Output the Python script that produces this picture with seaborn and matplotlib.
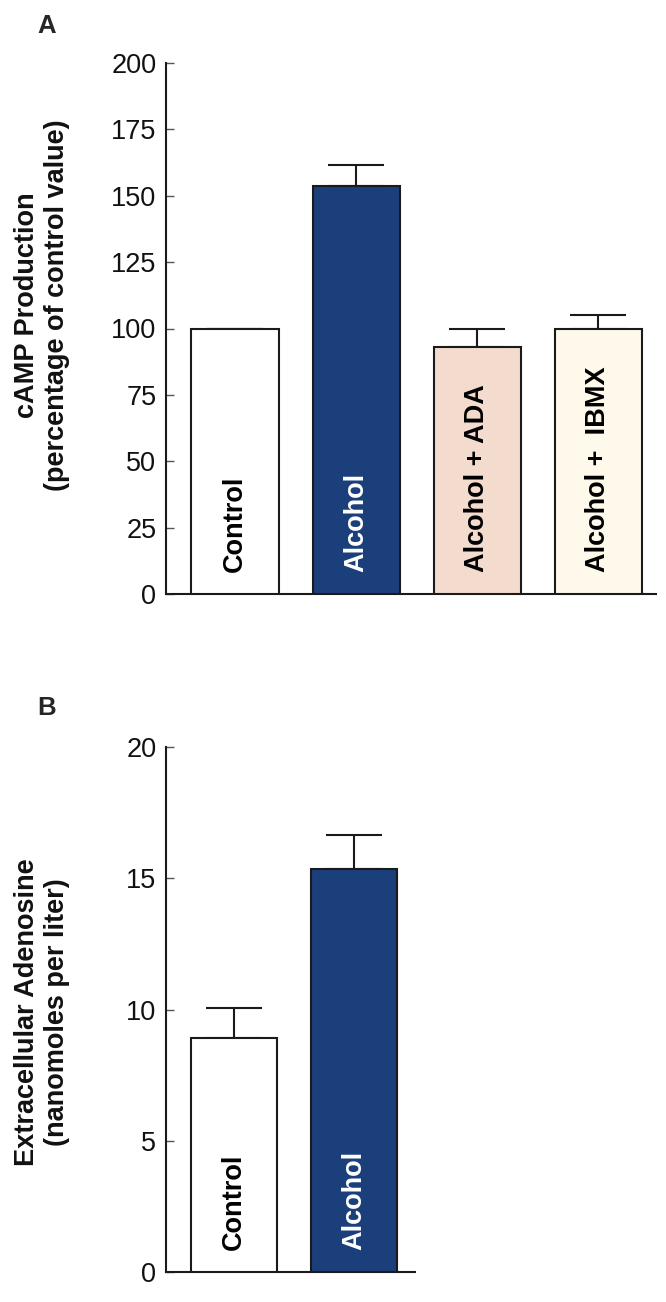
import matplotlib
matplotlib.use("Agg")
import matplotlib.pyplot as plt
import seaborn as sns
import numpy as np

sns.set_theme(style="white")
plt.rcParams['font.family'] = ['Liberation Sans', 'DejaVu Sans']

# Panel A data
cats_a = ["Control", "Alcohol", "Alcohol + ADA", "Alcohol +  IBMX"]
vals_a = [100, 153.5, 93, 100]
errs_a = [0, 8, 7, 5]
colors_a = ["#FFFFFF", "#1B3F7A", "#F3DBCE", "#FEF9EB"]
text_colors_a = ["black", "white", "black", "black"]
yticks_a = [0, 25, 50, 75, 100, 125, 150, 175, 200]

# Panel B data
cats_b = ["Control", "Alcohol"]
vals_b = [8.9, 15.35]
errs_b = [1.15, 1.3]
colors_b = ["#FFFFFF", "#1B3F7A"]
text_colors_b = ["black", "white"]
yticks_b = [0, 5, 10, 15, 20]

W, H = 666, 1302
fig = plt.figure(figsize=(W / 100, H / 100), dpi=100)

def ax_rect(x0, x1, ytop, ybot):
    return [x0 / W, 1 - ybot / H, (x1 - x0) / W, (ybot - ytop) / H]

ax_a = fig.add_axes(ax_rect(166, 656, 63, 594))
ax_b = fig.add_axes(ax_rect(166, 415, 747, 1272))

edge = "#1A1A1A"

def draw(ax, cats, vals, errs, colors, tcolors, yticks, ymax, xlim, label_y):
    sns.barplot(x=cats, y=vals, hue=cats, palette=colors, order=cats,
                hue_order=cats, edgecolor=edge, linewidth=1.5, width=0.72,
                saturation=1, legend=False, ax=ax, zorder=3)
    x = np.arange(len(cats))
    ax.errorbar(x, vals, yerr=[np.zeros(len(errs)), errs], fmt="none",
                ecolor=edge, elinewidth=1.5, capsize=20, capthick=1.5, zorder=2)
    for xi, c, tc in zip(x, cats, tcolors):
        ax.text(xi, label_y, c, rotation=90, ha="center", va="bottom",
                color=tc, fontsize=19.5, fontweight="bold", zorder=4)
    ax.set_ylim(0, ymax)
    ax.set_xlim(*xlim)
    ax.set_yticks(yticks)
    ax.set_yticklabels([str(t) for t in yticks], fontsize=19.5, color="#111111")
    ax.set_xticks([])
    ax.set_xlabel("")
    ax.set_ylabel("")
    for s in ["top", "right"]:
        ax.spines[s].set_visible(False)
    for s in ["left", "bottom"]:
        ax.spines[s].set_color(edge)
        ax.spines[s].set_linewidth(1.5)
    ax.tick_params(axis="y", direction="in", length=6, width=1.0,
                   color="#555555", pad=7, left=True)
    ax.set_facecolor("white")

draw(ax_a, cats_a, vals_a, errs_a, colors_a, text_colors_a, yticks_a, 200,
     (-0.57, 3.476), 8.2)
draw(ax_b, cats_b, vals_b, errs_b, colors_b, text_colors_b, yticks_b, 20,
     (-0.567, 1.508), 0.84)

fig.text(42 / W, 1 - 305 / H, "cAMP Production\n(percentage of control value)",
         rotation=90, ha="center", va="center", multialignment="center",
         fontsize=19.5, fontweight="bold", linespacing=1.2, color="#111111")
fig.text(42 / W, 1 - 1012 / H, "Extracellular Adenosine\n(nanomoles per liter)",
         rotation=90, ha="center", va="center", multialignment="center",
         fontsize=19.5, fontweight="bold", linespacing=1.2, color="#111111")

fig.text(37 / W, 1 - 26 / H, "A", fontsize=18.5, fontweight="bold", va="center", ha="left")
fig.text(37 / W, 1 - 708 / H, "B", fontsize=18.5, fontweight="bold", va="center", ha="left")

fig.savefig("out.png", dpi=100, facecolor="white")
